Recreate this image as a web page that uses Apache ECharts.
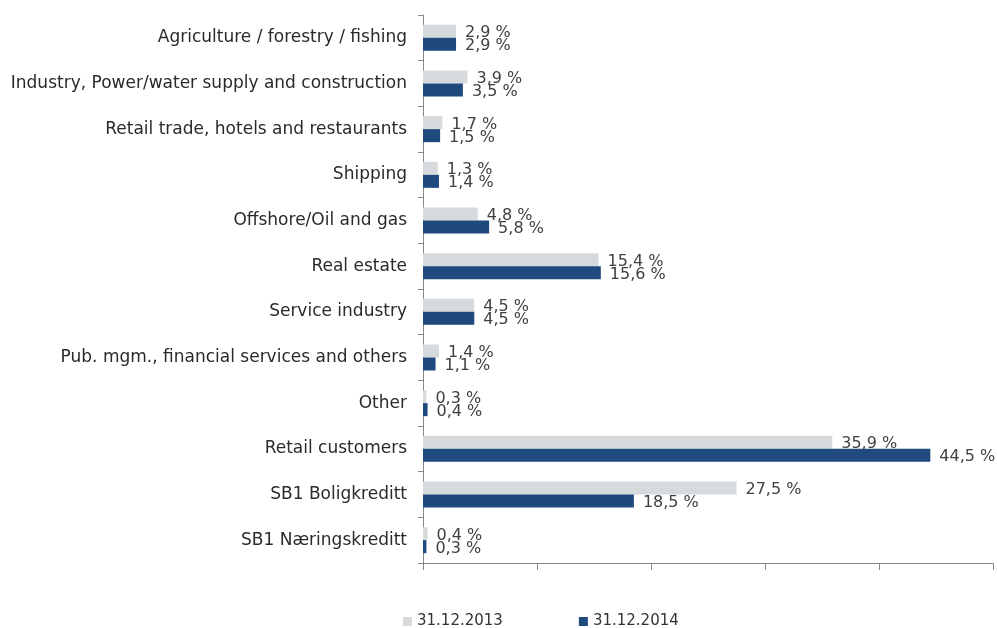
<!DOCTYPE html>
<html><head><meta charset="utf-8">
<script src="https://cdn.jsdelivr.net/npm/echarts@6/dist/echarts.min.js"></script>
<style>html,body{margin:0;padding:0;background:#fff}#c{width:997px;height:628px}</style>
</head><body><div id="c"></div>
<script>
const categories = ["Agriculture / forestry / fishing","Industry, Power/water supply and construction","Retail trade, hotels and restaurants","Shipping","Offshore/Oil and gas","Real estate","Service industry","Pub. mgm., financial services and others","Other","Retail customers","SB1 Boligkreditt","SB1 Næringskreditt"];
const values2013 = [2.9,3.9,1.7,1.3,4.8,15.4,4.5,1.4,0.3,35.9,27.5,0.4];
const values2014 = [2.9,3.5,1.5,1.4,5.8,15.6,4.5,1.1,0.4,44.5,18.5,0.3];
const seriesNames = ["31.12.2013","31.12.2014"];
const font = "DejaVu Sans";
const fmt = p => p.value.toFixed(1).replace('.', ',') + ' %';
const chart = echarts.init(document.getElementById('c'));
chart.setOption({
  animation:false,
  grid:{left:423,right:4,top:15,bottom:65},
  legend:{top:609,left:398,itemGap:76,itemWidth:9,itemHeight:9,icon:'rect',
    textStyle:{fontFamily:font,fontSize:15,color:'#333'},data:seriesNames},
  xAxis:{type:'value',min:0,max:50,interval:10,
    axisLine:{show:true,lineStyle:{color:'#888'}},
    axisTick:{show:true,length:7,lineStyle:{color:'#888'}},
    axisLabel:{show:false},splitLine:{show:false}},
  yAxis:{type:'category',data:categories,inverse:true,
    axisLine:{lineStyle:{color:'#888'}},
    axisTick:{show:true,length:5,lineStyle:{color:'#888'}},
    axisLabel:{fontFamily:font,fontSize:17,color:'#2a2a2a',margin:16,padding:[3,0,0,0]}},
  series:[
    {name:seriesNames[0],type:'bar',data:values2013,barWidth:13,barGap:'0%',
     itemStyle:{color:'#D6DADD'},
     label:{show:true,position:'right',distance:9,offset:[0,2],formatter:fmt,fontFamily:font,fontSize:16,color:'#404040'}},
    {name:seriesNames[1],type:'bar',data:values2014,barWidth:13,
     itemStyle:{color:'#1F4A7E'},
     label:{show:true,position:'right',distance:9,offset:[0,2],formatter:fmt,fontFamily:font,fontSize:16,color:'#404040'}}
  ]
});
</script></body></html>
